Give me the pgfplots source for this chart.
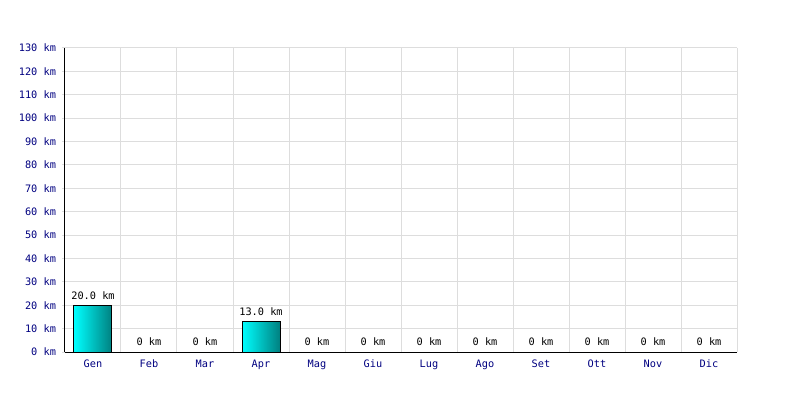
\documentclass[border=0pt]{standalone}
\usepackage{pgfplots}
\pgfplotsset{compat=1.18}
\usepackage{fontspec}
\setmainfont{DejaVu Sans Mono}
\definecolor{navy}{HTML}{000080}
\definecolor{gridc}{HTML}{DDDDDD}
\definecolor{barl}{HTML}{00FFFF}
\definecolor{barr}{HTML}{008080}
\begin{document}
\begin{tikzpicture}[font=\fontsize{7.5pt}{9pt}\selectfont]
\path[use as bounding box] (-48.75pt,-36pt) rectangle (551.25pt,264pt);
\begin{axis}[
  at={(0,0)}, anchor=south west,
  scale only axis, width=504pt, height=228pt,
  xmin=-0.5, xmax=11.5, ymin=0, ymax=130,
  axis x line=bottom, axis y line=left,
  axis line style={black, line width=0.75pt, -},
  xtick={0,...,11},
  xticklabels={Gen,Feb,Mar,Apr,Mag,Giu,Lug,Ago,Set,Ott,Nov,Dic},
  minor xtick={0.5,1.5,...,11.5},
  ytick={0,10,...,130},
  yticklabels={0 km,10 km,20 km,30 km,40 km,50 km,60 km,70 km,80 km,90 km,100 km,110 km,120 km,130 km},
  ymajorgrids, xminorgrids,
  grid style={gridc, line width=0.75pt},
  minor grid style={gridc, line width=0.75pt},
  x tick style={draw=none},
  minor x tick style={draw=none},
  y tick style={gridc, line width=0.75pt},
  tick align=outside, major tick length=2.25pt,
  ticklabel style={text=navy, font=\fontsize{7.7pt}{9pt}\selectfont},
  yticklabel style={xshift=-1pt},
  xticklabel style={yshift=0pt},
  /pgf/number format/assume math mode=true,
  clip=false,
]
\addplot[ybar, bar width=28.5pt, bar shift=0pt, draw=black, line width=0.75pt, left color=barl, right color=barr]
  coordinates {(0,20)};
\addplot[ybar, bar width=28.5pt, bar shift=0pt, draw=black, line width=0.75pt, left color=barl, right color=barr]
  coordinates {(3,13)};
\addplot[draw=none, mark=none, nodes near coords, point meta=explicit symbolic,
  nodes near coords style={anchor=south, text=black, font=\fontsize{7.7pt}{9pt}\selectfont, yshift=1pt}]
  table[meta=label, col sep=comma] {
x,y,label
0,20,20.0 km
1,0,0 km
2,0,0 km
3,13,13.0 km
4,0,0 km
5,0,0 km
6,0,0 km
7,0,0 km
8,0,0 km
9,0,0 km
10,0,0 km
11,0,0 km
};
\end{axis}
\end{tikzpicture}
\end{document}
